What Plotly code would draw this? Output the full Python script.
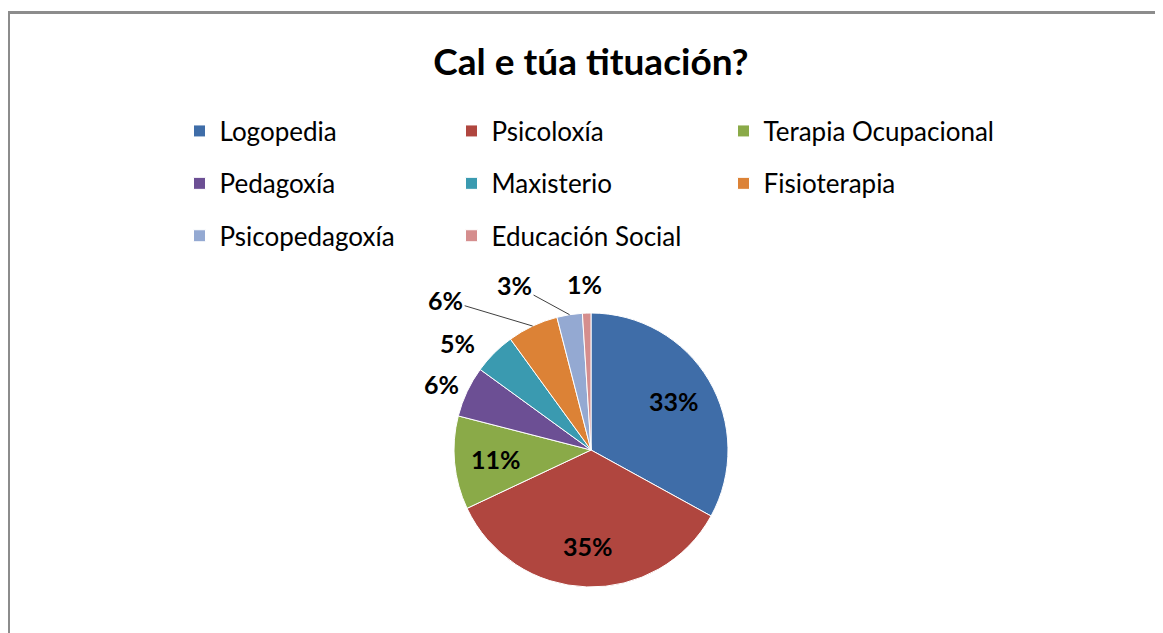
import math
import plotly.graph_objects as go

# data
titulo = "Cal e túa tituación?"
categorias = ["Logopedia", "Psicoloxía", "Terapia Ocupacional", "Pedagoxía",
              "Maxisterio", "Fisioterapia", "Psicopedagoxía", "Educación Social"]
porcentaxes = [33, 35, 11, 6, 5, 6, 3, 1]
cores = ["#3F6DA8", "#B0463F", "#8AAA48", "#6C4F94",
         "#3A9AB0", "#DC8236", "#94A9D2", "#D58E8E"]

# label placement: first three sit inside, the rest are outside labels
dentro = [True, True, True, False, False, False, False, False]
# pixel offset of each outside label from the rim, and whether it has a leader line
desprazamento = {3: (-26, -8), 4: (-37, -10), 5: (-87, -26), 6: (-55, -30), 7: (-2, -29)}
con_linea = {3: False, 4: False, 5: True, 6: True, 7: False}
radio_dentro = 0.7  # inside labels sit at this fraction of the radius

W, H = 1163, 633
ML, MR = 130, 130
PW = W - ML - MR


def px_x(x):
    """figure pixel x -> plot-area paper fraction"""
    return (x - ML) / PW


def px_y(y):
    """figure pixel y (from top) -> paper fraction"""
    return 1 - y / H


# pie geometry in figure pixels
cx, cy, r = 583, 442, 137

# legend rows are tall in the reference; the big legend font sets the row
# height, the span keeps the visible text at its real size
etiquetas = ['<span style="font-size:26px;baseline-shift:5px">' + c + "</span>"
             for c in categorias]

fig = go.Figure()
fig.add_trace(
    go.Pie(
        labels=etiquetas,
        values=porcentaxes,
        sort=False,
        direction="clockwise",
        rotation=0,
        marker=dict(colors=cores, line=dict(color="white", width=1)),
        textinfo="none",
        hoverinfo="none",
        domain=dict(x=[px_x(cx - r), px_x(cx + r)],
                    y=[px_y(cy + r), px_y(cy - r)]),
    )
)

# percentage labels, placed from each slice's mid angle
fonte_etiqueta = dict(family="Lato", size=25, color="black", weight="bold")
total = sum(porcentaxes)
acumulado = 0
anotacions = []
for i, v in enumerate(porcentaxes):
    medio = (acumulado + v / 2) / total * 2 * math.pi
    acumulado += v
    if dentro[i]:
        tx = cx + radio_dentro * r * math.sin(medio)
        ty = cy - radio_dentro * r * math.cos(medio)
        anotacions.append(
            dict(x=px_x(tx), y=px_y(ty), xref="paper", yref="paper",
                 xanchor="center", yanchor="middle",
                 text="%d%%" % v, showarrow=False, font=fonte_etiqueta)
        )
        continue
    rx = cx + r * math.sin(medio)
    ry = cy - r * math.cos(medio)
    dx, dy = desprazamento[i]
    anotacions.append(
        dict(
            x=px_x(rx),
            y=px_y(ry),
            xref="paper",
            yref="paper",
            text="%d%%" % v,
            showarrow=True,
            ax=dx,
            ay=dy,
            arrowhead=0,
            arrowwidth=1,
            standoff=0,
            arrowcolor="#404040" if con_linea[i] else "rgba(0,0,0,0)",
            font=fonte_etiqueta,
        )
    )

fig.update_layout(
    width=W,
    height=H,
    margin=dict(l=ML, r=MR, t=0, b=0),
    paper_bgcolor="white",
    plot_bgcolor="white",
    font=dict(family="Lato", color="black"),
    title=dict(
        text="<b>" + titulo + "</b>",
        x=583 / W,
        xanchor="center",
        y=1 - 54 / H,
        yanchor="middle",
        font=dict(family="Lato", size=37, color="black"),
    ),
    showlegend=True,
    legend=dict(
        orientation="h",
        x=px_x(171.5),
        xanchor="left",
        y=px_y(91.75),
        yanchor="top",
        entrywidth=227,
        font=dict(family="Lato", size=38, color="black"),
        bgcolor="rgba(0,0,0,0)",
    ),
    annotations=anotacions,
    shapes=[
        dict(
            type="rect",
            xref="paper",
            yref="paper",
            x0=px_x(0.5),
            x1=px_x(1200),
            y0=px_y(700),
            y1=px_y(4.5),
            line=dict(color="#8c8c8c", width=3),
            fillcolor="rgba(0,0,0,0)",
            layer="below",
        )
    ],
)

fig.write_html("out.html")
